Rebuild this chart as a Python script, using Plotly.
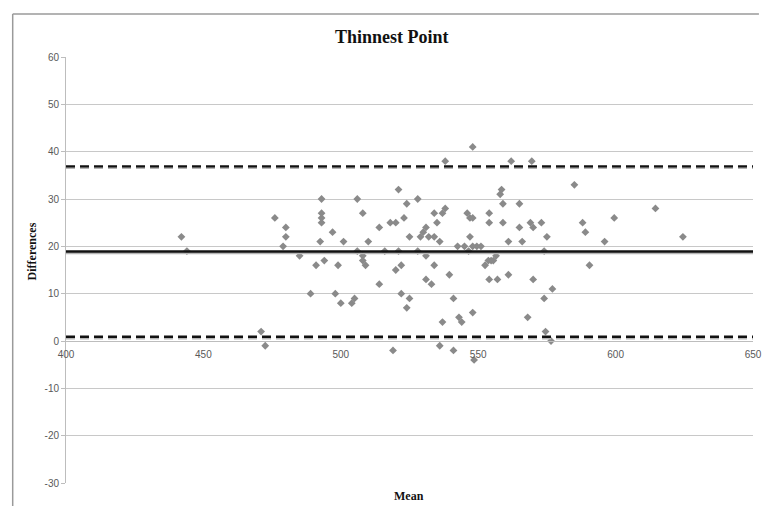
import plotly.graph_objects as go

# Bland-Altman data (mean vs. difference)
mean_vals = [442, 444, 471, 472.5, 476, 479, 480, 480, 485, 489, 491, 492.5, 493, 493, 493, 493, 494,
             497, 498, 499, 500, 501, 504, 505, 506, 506, 508, 508, 508, 509, 510, 514, 514, 516,
             518, 519, 520, 521, 520, 521, 522, 522, 523, 524, 524, 525, 525, 528, 528, 529, 530,
             531, 531, 531, 532, 533, 534, 534, 534, 535, 536, 536, 537, 537, 538, 538, 539.5, 541,
             541, 542.5, 543, 544, 545, 546, 547, 547, 546.5, 548, 548, 548, 548, 548.5, 549.5, 551,
             552.5, 553.7, 554.7, 555.5, 556.5, 554, 554, 554, 557, 558, 558.5, 559, 559, 561, 561,
             562, 565, 565, 566, 568, 569, 570, 569.5, 570, 573, 574, 575, 574, 577, 574.5, 576.5,
             585, 588, 589, 590.5, 596, 599.5, 614.5, 624.5]
diff_vals = [22, 19, 2, -1, 26, 20, 22, 24, 18, 10, 16, 21, 25, 26, 27, 30, 17,
             23, 10, 16, 8, 21, 8, 9, 30, 19, 27, 18, 17, 16, 21, 12, 24, 19,
             25, -2, 25, 32, 15, 19, 16, 10, 26, 29, 7, 22, 9, 30, 19, 22, 23,
             24, 18, 13, 22, 12, 22, 16, 27, 25, 21, -1, 4, 27, 28, 38, 14, -2,
             9, 20, 5, 4, 20, 27, 26, 22, 19, 26, 20, 6, 41, -4, 20, 20,
             16, 17, 17, 17, 18, 27, 25, 13, 13, 31, 32, 29, 25, 14, 21,
             38, 24, 29, 21, 5, 25, 24, 38, 13, 25, 19, 22, 9, 11, 2, 0,
             33, 25, 23, 16, 21, 26, 28, 22]

mean_diff = 18.9
upper_loa = 36.9
lower_loa = 0.9
x_range = [400, 650]
y_range = [-30, 60]
x_ticks = [400, 450, 500, 550, 600, 650]
x_tick_labels = ["400", "450", "500", "550", "600", "650"]
y_ticks = [-30, -20, -10, 0, 10, 20, 30, 40, 50, 60]
y_tick_labels = ["-30", "-20", "-10", "0", "10", "20", "30", "40", "50", "60"]

fig = go.Figure()

fig.add_trace(go.Scatter(
    x=mean_vals, y=diff_vals, mode="markers",
    marker=dict(symbol="diamond", size=6, color="#8a8a8a", line=dict(width=0)),
    showlegend=False, hoverinfo="x+y"))

# shadows
for val, dash in [(mean_diff, "solid"), (upper_loa, "9px,5px"), (lower_loa, "9px,5px")]:
    fig.add_trace(go.Scatter(
        x=x_range, y=[val - 0.35, val - 0.35], mode="lines",
        line=dict(color="#b5b5b5", width=2, dash=dash),
        showlegend=False, hoverinfo="skip"))
for val, dash in [(mean_diff, "solid"), (upper_loa, "9px,5px"), (lower_loa, "9px,5px")]:
    fig.add_trace(go.Scatter(
        x=x_range, y=[val, val], mode="lines",
        line=dict(color="#111111", width=2.4, dash=dash),
        showlegend=False, hoverinfo="skip"))

l, r, t, b = 66, 6, 57, 23
W, H = 768, 506
pw, ph = W - l - r, H - t - b

def px_x(p):
    return (p - l) / pw

def px_y(p):
    return (H - b - p) / ph

fig.update_layout(
    width=W, height=H,
    margin=dict(l=l, r=r, t=t, b=b),
    paper_bgcolor="white", plot_bgcolor="white",
    font=dict(family="Liberation Sans", size=10, color="#595959"),
    xaxis=dict(range=x_range, tickvals=x_ticks, ticktext=x_tick_labels, showgrid=False,
               zeroline=False, showline=True, linecolor="#bdbdbd", linewidth=1,
               anchor="free", position=(0 - y_range[0]) / (y_range[1] - y_range[0]),
               ticks="", ticklabeloverflow="allow", ticklabelstandoff=4,
               tickfont=dict(size=10, color="#595959")),
    yaxis=dict(range=y_range, tickvals=y_ticks, ticktext=y_tick_labels, showgrid=True,
               gridcolor="#c8c8c8", gridwidth=1, zeroline=False, showline=True,
               linecolor="#bdbdbd", linewidth=1, ticks="outside", ticklen=4,
               tickcolor="#bdbdbd", tickfont=dict(size=10, color="#595959")),
    annotations=[
        dict(text="<b>Thinnest Point</b>", x=px_x(396), y=px_y(37), xref="paper", yref="paper",
             xanchor="center", yanchor="middle", showarrow=False,
             font=dict(family="Liberation Serif", size=18, color="#111111")),
        dict(text="<b>Differences</b>", x=px_x(32), y=px_y(251), xref="paper", yref="paper",
             xanchor="center", yanchor="middle", showarrow=False, textangle=-90,
             font=dict(family="Liberation Serif", size=12, color="#111111")),
        dict(text="<b>Mean</b>", x=px_x(413), y=px_y(496), xref="paper", yref="paper",
             xanchor="center", yanchor="middle", showarrow=False,
             font=dict(family="Liberation Serif", size=12, color="#111111")),
    ],
    shapes=[
        dict(type="line", xref="paper", yref="paper", x0=px_x(12), x1=px_x(12),
             y0=px_y(14), y1=px_y(506), line=dict(color="#9a9a9a", width=1.5)),
        dict(type="line", xref="paper", yref="paper", x0=px_x(12), x1=px_x(768),
             y0=px_y(14), y1=px_y(14), line=dict(color="#9a9a9a", width=1.5)),
    ],
)

fig.write_html("out.html",
               config={"displayModeBar": False},
               post_script="document.body.style.margin='0';document.body.style.overflow='hidden';")
